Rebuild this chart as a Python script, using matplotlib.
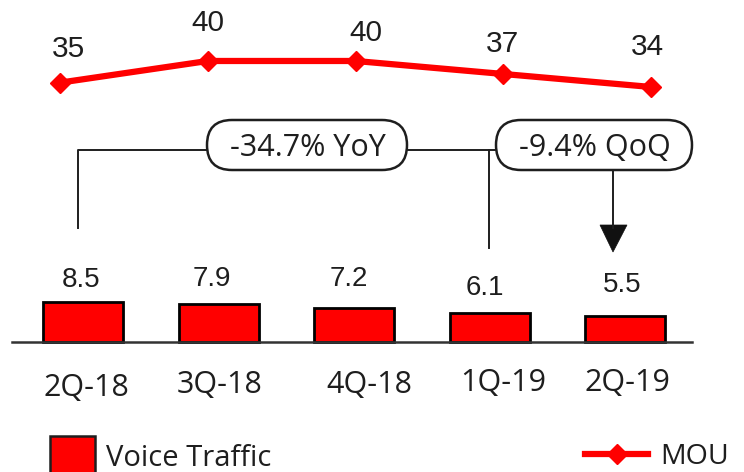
import matplotlib
matplotlib.use('Agg')
import matplotlib.pyplot as plt
from matplotlib.patches import FancyBboxPatch, Rectangle, Polygon
from matplotlib.lines import Line2D

quarters = ['2Q-18', '3Q-18', '4Q-18', '1Q-19', '2Q-19']
voice_traffic = [8.5, 7.9, 7.2, 6.1, 5.5]
mou = [35, 40, 40, 37, 34]
yoy_text = '-34.7% YoY'
qoq_text = '-9.4% QoQ'

W, H = 744, 472
RED = '#ff0000'
INK = '#1e1e1e'
NUM_FONT = ['Liberation Sans', 'DejaVu Sans']
TXT_FONT = ['Open Sans', 'DejaVu Sans']

fig = plt.figure(figsize=(W / 100, H / 100), dpi=100)
pix = fig.dpi_scale_trans


def at(x, y):
    # pixel position (from top-left) -> inches for dpi_scale_trans
    return x / 100, (H - y) / 100


# bars: category i sits at x = 83 + 135.6*i px, zero at y = 342 px, 4.75 px per unit
ax = fig.add_axes([0, 0, 1, 1])
ax.set_xlim(-83 / 135.6, (W - 83) / 135.6)
ax.set_ylim(-(H - 342) / 4.75, 342 / 4.75)
ax.axis('off')

xs = list(range(len(quarters)))
ax.bar(xs, voice_traffic, width=80 / 135.6, color=RED, edgecolor='black',
       linewidth=2, zorder=3)

bar_lbl_off = [(-2, -22), (-7, -25), (-5, -29), (-5, -25), (-3, -31)]
for i, v in enumerate(voice_traffic):
    dx, dy = bar_lbl_off[i]
    ax.annotate(f'{v:.1f}', (i, v), xytext=(dx * 0.72, -dy * 0.72),
                textcoords='offset points', ha='center', va='center',
                fontsize=20, family=NUM_FONT, color=INK)

cat_off = [(3, 46), (1, 43), (15, 43), (13, 41), (2, 41)]
for i, q in enumerate(quarters):
    dx, dy = cat_off[i]
    ax.annotate(q, (i, 0), xytext=(dx * 0.72, -dy * 0.72),
                textcoords='offset points', ha='center', va='center',
                fontsize=22, family=TXT_FONT, color=INK)

# baseline under the bars
fig.add_artist(Line2D([0.12, 6.92], [at(0, 342)[1]] * 2, transform=pix,
                      color='#333333', lw=1.8))

# MOU line: point i at x = 60 + 147.75*i px, 40 -> y 61 px, 4.333 px per unit
ax2 = fig.add_axes([0, 0, 1, 1])
ax2.set_xlim(-60 / 147.75, (W - 60) / 147.75)
ax2.set_ylim(-237.7 / 4.333, (H - 237.7) / 4.333)
ax2.axis('off')
ax2.plot(xs, mou, color=RED, lw=4.5, marker='D', ms=10, zorder=3)

mou_lbl_off = [(8, -34), (0, -38), (10, -28), (-1, -30), (-4, -40)]
for i, v in enumerate(mou):
    dx, dy = mou_lbl_off[i]
    ax2.annotate(str(v), (i, v), xytext=(dx * 0.72, -dy * 0.72),
                 textcoords='offset points', ha='center', va='center',
                 fontsize=21.5, family=NUM_FONT, color=INK)

# YoY / QoQ callouts
for (x0, x1), label in [((207, 407), yoy_text), ((496, 692), qoq_text)]:
    bx, by = at(x0, 170)
    fig.add_artist(FancyBboxPatch((bx, by), (x1 - x0) / 100, 0.5,
                                  boxstyle='round,pad=0,rounding_size=0.25',
                                  transform=pix, fc='white', ec=INK, lw=1.8))
    fig.text(*at((x0 + x1) / 2 + 1, 148), label, transform=pix, ha='center',
             va='center', fontsize=22, family=TXT_FONT, color=INK)

connectors = [
    [(78, 228), (78, 150), (207, 150)],
    [(407, 150), (496, 150)],
    [(489, 150), (489, 248)],
    [(613, 170), (613, 228)],
]
for seg in connectors:
    pts = [at(x, y) for x, y in seg]
    fig.add_artist(Line2D([p[0] for p in pts], [p[1] for p in pts],
                          transform=pix, color=INK, lw=1.4))
fig.add_artist(Polygon([at(600, 225), at(627, 225), at(613, 252)], closed=True,
                       transform=pix, fc='#111111', ec='#111111', lw=0.5))

# legend
fig.add_artist(Rectangle(at(50, 474), 0.45, 0.38, transform=pix, fc=RED,
                         ec=INK, lw=1.8, clip_on=False))
fig.text(*at(106, 459), 'Voice Traffic', transform=pix, ha='left', va='center',
         fontsize=21, family=TXT_FONT, color=INK)
lx0, ly = at(585, 454)
lx1, _ = at(648, 454)
fig.add_artist(Line2D([lx0, lx1], [ly, ly], transform=pix, color=RED, lw=4.5))
fig.add_artist(Line2D([at(617, 454)[0]], [ly], transform=pix, color=RED,
                      marker='D', ms=10, lw=0))
fig.text(*at(660, 457), 'MOU', transform=pix, ha='left', va='center',
         fontsize=20.5, family=TXT_FONT, color=INK)

fig.savefig('out.png', dpi=100)
